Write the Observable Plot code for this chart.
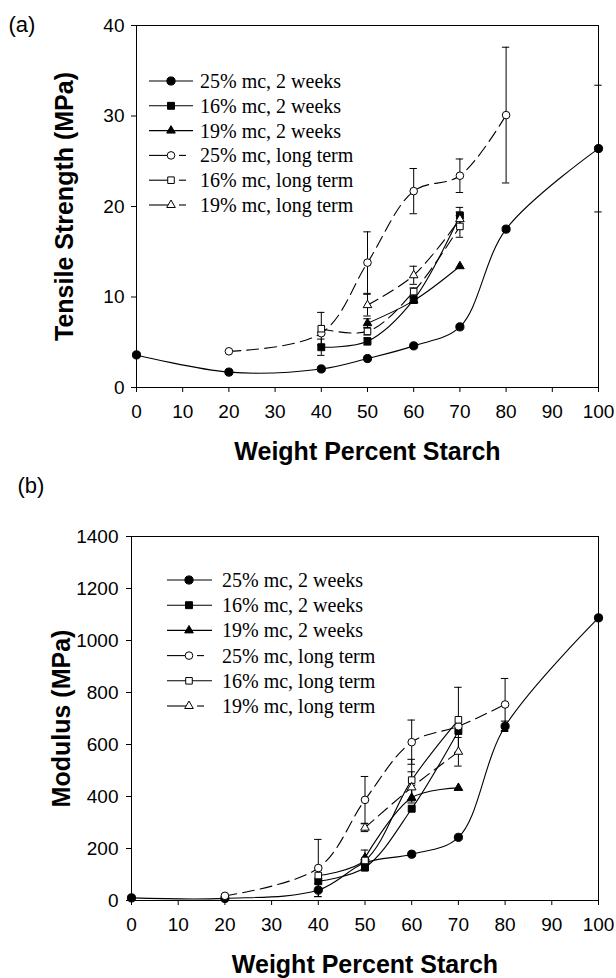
<!DOCTYPE html>
<html><head><meta charset="utf-8">
<script src="https://cdn.jsdelivr.net/npm/d3@7"></script>
<script src="https://cdn.jsdelivr.net/npm/@observablehq/plot@0.6"></script>
<style>
body{margin:0;background:#fff;}
#chart{width:616px;}
#chart svg{display:block;background:#fff;}
</style></head><body><div id="chart"></div>
<script>
// ---------- labels ----------
const seriesNames = ["25% mc, 2 weeks","16% mc, 2 weeks","19% mc, 2 weeks","25% mc, long term","16% mc, long term","19% mc, long term"];
const xTicks = [0,10,20,30,40,50,60,70,80,90,100];
const yTicksA = [0,10,20,30,40];
const yTicksB = [0,200,400,600,800,1000,1200,1400];
const xTitle = "Weight Percent Starch";
const yTitleA = "Tensile Strength (MPa)";
const yTitleB = "Modulus (MPa)";

// ---------- panel (a): tensile strength (MPa) ----------
const tsX_25_2w = [0,20,40,50,60,70,80,100];
const tsY_25_2w = [3.6,1.7,2.05,3.2,4.6,6.7,17.5,26.4];
const tsE_25_2w = [0,0,0,0,0,0,0,7];
const tsX_16_2w = [40,50,60,70];
const tsY_16_2w = [4.45,5.1,9.7,19.0];
const tsE_16_2w = [0.9,0.4,0.4,0.9];
const tsX_19_2w = [50,60,70];
const tsY_19_2w = [7.1,9.6,13.4];
const tsE_19_2w = [0.5,0.3,0];
const tsX_25_lt = [20,40,50,60,70,80];
const tsY_25_lt = [4.0,6.0,13.8,21.7,23.4,30.1];
const tsE_25_lt = [0,0,3.4,2.5,1.85,7.5];
const tsX_16_lt = [40,50,60,70];
const tsY_16_lt = [6.5,6.2,10.6,17.8];
const tsE_16_lt = [1.8,0.4,0.4,1.2];
const tsX_19_lt = [50,60,70];
const tsY_19_lt = [9.1,12.4,18.6];
const tsE_19_lt = [1.2,1.0,0.8];

// ---------- panel (b): modulus (MPa) ----------
const mX_25_2w = [0,20,40,50,60,70,80,100];
const mY_25_2w = [10,8,40,145,178,243,670,1087];
const mE_25_2w = [0,0,25,0,0,0,20,0];
const mX_16_2w = [40,50,60,70];
const mY_16_2w = [74,127,353,652];
const mE_16_2w = [0,0,0,0];
const mX_19_2w = [50,60,70];
const mY_19_2w = [165,395,433];
const mE_19_2w = [0,0,0];
const mX_25_lt = [20,40,50,60,70,80];
const mY_25_lt = [18,125,387,609,670,754];
const mE_25_lt = [0,110,90,85,0,100];
const mX_16_lt = [40,50,60,70];
const mY_16_lt = [96,154,463,695];
const mE_16_lt = [0,40,80,125];
const mX_19_lt = [50,60,70];
const mY_19_lt = [280,435,572];
const mE_19_lt = [15,60,55];

// ---------- styles ----------
const symbols = ["circle","square","triangle","circle","square","triangle"];
const filled  = [true,true,true,false,false,false];
const radii   = [4.1,3.9,3.2,3.8,3.7,3.2];
const dashA   = [false,false,false,true,true,true];
const dashB   = [false,false,false,true,false,true];
const DASH = "12,6";

function rowsOf(xs, ys, es){ return xs.map((x,i)=>({x, y: ys[i], e: es[i]})); }

const seriesA = [
  rowsOf(tsX_25_2w, tsY_25_2w, tsE_25_2w),
  rowsOf(tsX_16_2w, tsY_16_2w, tsE_16_2w),
  rowsOf(tsX_19_2w, tsY_19_2w, tsE_19_2w),
  rowsOf(tsX_25_lt, tsY_25_lt, tsE_25_lt),
  rowsOf(tsX_16_lt, tsY_16_lt, tsE_16_lt),
  rowsOf(tsX_19_lt, tsY_19_lt, tsE_19_lt)
];
const seriesB = [
  rowsOf(mX_25_2w, mY_25_2w, mE_25_2w),
  rowsOf(mX_16_2w, mY_16_2w, mE_16_2w),
  rowsOf(mX_19_2w, mY_19_2w, mE_19_2w),
  rowsOf(mX_25_lt, mY_25_lt, mE_25_lt),
  rowsOf(mX_16_lt, mY_16_lt, mE_16_lt),
  rowsOf(mX_19_lt, mY_19_lt, mE_19_lt)
];

function panel(cfg){
  const marks = [];
  cfg.series.forEach((rows,i)=>{
    marks.push(Plot.line(rows, {x:"x", y:"y", curve:"catmull-rom", stroke:"#000", strokeWidth:1.1,
      strokeDasharray: cfg.dash[i] ? DASH : null}));
  });
  cfg.series.forEach((rows)=>{
    const er = rows.filter(d=>d.e>0);
    marks.push(Plot.ruleX(er, {x:"x", y1:d=>d.y-d.e, y2:d=>d.y+d.e, stroke:"#000", strokeWidth:1}));
    marks.push(Plot.ruleY(er, {y:d=>d.y+d.e, x1:d=>d.x-0.8, x2:d=>d.x+0.8, stroke:"#000", strokeWidth:1}));
    marks.push(Plot.ruleY(er, {y:d=>d.y-d.e, x1:d=>d.x-0.8, x2:d=>d.x+0.8, stroke:"#000", strokeWidth:1}));
  });
  cfg.series.forEach((rows,i)=>{
    marks.push(Plot.dot(rows, {x:"x", y:"y", symbol: symbols[i], r: radii[i],
      fill: filled[i] ? "#000" : "#fff", stroke:"#000", strokeWidth:1}));
  });
  marks.push(Plot.frame({stroke:"#000", strokeWidth:1}));
  marks.push(Plot.axisX({ticks: xTicks, tickSize:5, tickPadding:12, label:null, fontSize:19, tickFormat: d3.format("d")}));
  marks.push(Plot.axisY({ticks: cfg.yTicks, tickSize:5, tickPadding:cfg.yPad, label:null, fontSize:19, tickFormat: d3.format("d")}));
  marks.push(Plot.text([xTitle], {frameAnchor:"bottom", lineAnchor:"middle", textAnchor:"middle", dy:64, fontSize:25, fontWeight:"bold"}));
  marks.push(Plot.text([cfg.yTitle], {frameAnchor:"left", rotate:-90, textAnchor:"middle", lineAnchor:"middle", dx:cfg.yTitleDx, fontSize:25, fontWeight:"bold"}));
  marks.push(Plot.text([cfg.tag], {frameAnchor:"top-left", textAnchor:"start", lineAnchor:"middle", dx:cfg.tagDx, dy:cfg.tagDy, fontSize:22}));
  const svg = Plot.plot({
    width:616, height:cfg.height,
    marginTop:cfg.mt, marginBottom:cfg.mb, marginLeft:cfg.ml, marginRight:cfg.mr,
    style:{fontFamily:"'Liberation Sans', Arial, Helvetica, sans-serif", fontSize:"19px", color:"#000", background:"#fff"},
    x:{domain:[0,100]},
    y:{domain:cfg.yDomain},
    marks
  });
  // legend inside the frame
  const g = d3.select(svg).append("g").attr("text-anchor","start");
  const L = cfg.legend;
  const symMap = {circle: d3.symbolCircle, square: d3.symbolSquare, triangle: d3.symbolTriangle};
  seriesNames.forEach((name,i)=>{
    const y = L.y0 + L.dy*i;
    if (cfg.dash[i]) {
      g.append("line").attr("x1",L.x1).attr("x2",L.xm).attr("y1",y).attr("y2",y).attr("stroke","#000").attr("stroke-width",1.1);
      g.append("line").attr("x1",L.xm+8).attr("x2",L.xm+15).attr("y1",y).attr("y2",y).attr("stroke","#000").attr("stroke-width",1.1);
    } else {
      g.append("line").attr("x1",L.x1).attr("x2",L.x2).attr("y1",y).attr("y2",y).attr("stroke","#000").attr("stroke-width",1.1);
    }
    g.append("path").attr("d", d3.symbol(symMap[symbols[i]], Math.PI*radii[i]*radii[i])())
      .attr("transform",`translate(${L.xm},${y})`)
      .attr("fill", filled[i] ? "#000" : "#fff").attr("stroke","#000").attr("stroke-width",1);
    g.append("text").attr("x",L.xt).attr("y",y+7).attr("text-anchor","start").text(name)
      .attr("font-family","'Liberation Serif','Times New Roman',serif").attr("font-size",20).attr("fill","#000");
  });
  return svg;
}

const chart = document.getElementById("chart");
chart.appendChild(panel({
  series: seriesA, dash: dashA, yDomain:[0,40], yTicks: yTicksA, yPad:7,
  height:470, mt:25, mb:83, ml:136, mr:18,
  yTitle: yTitleA, yTitleDx:-72, tag:"(a)", tagDx:-128, tagDy:-1,
  legend:{x1:149, xm:171, x2:193, xt:200, y0:81, dy:24.8}
}));
chart.appendChild(panel({
  series: seriesB, dash: dashB, yDomain:[0,1400], yTicks: yTicksB, yPad:8,
  height:508, mt:66, mb:78, ml:131, mr:18,
  yTitle: yTitleB, yTitleDx:-70, tag:"(b)", tagDx:-114, tagDy:-51,
  legend:{x1:167, xm:189, x2:212, xt:222, y0:110, dy:25.2}
}));
</script></body></html>
